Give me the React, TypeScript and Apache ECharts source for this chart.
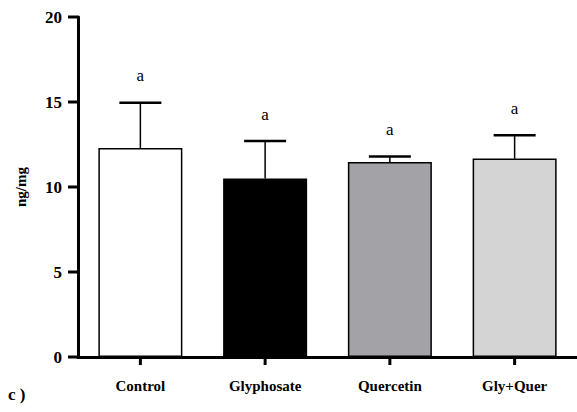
import React, { useEffect, useRef } from "react";
import * as echarts from "echarts";

const categories = ["Control", "Glyphosate", "Quercetin", "Gly+Quer"];
const means = [12.3, 10.5, 11.47, 11.67];
const errors = [2.65, 2.2, 0.33, 1.37];
const letters = ["a", "a", "a", "a"];
const colors = ["#ffffff", "#000000", "#a3a2a7", "#d4d4d4"];
const yTicks = [0, 5, 10, 15, 20];

const SERIF = "Liberation Serif";
const GRID_LEFT = 78;

export default function App() {
  const ref = useRef<HTMLDivElement>(null);
  useEffect(() => {
    document.body.style.margin = "0";
    const chart = echarts.init(ref.current!, null, { renderer: "svg" });
    chart.setOption({
      animation: false,
      backgroundColor: "#ffffff",
      grid: { left: GRID_LEFT, top: 17, width: 504, height: 340 },
      xAxis: {
        type: "category",
        data: categories,
        axisLine: { show: true, lineStyle: { color: "#000000", width: 3 } },
        axisTick: { show: false },
        axisLabel: {
          show: true,
          color: "#000000",
          fontFamily: SERIF,
          fontWeight: "bold",
          fontSize: 15,
          margin: 21,
        },
      },
      yAxis: {
        type: "value",
        min: yTicks[0],
        max: yTicks[yTicks.length - 1],
        interval: 5,
        name: "ng/mg",
        nameLocation: "middle",
        nameGap: 50,
        nameRotate: 90,
        nameTextStyle: { color: "#000000", fontFamily: SERIF, fontWeight: "bold", fontSize: 15 },
        splitLine: { show: false },
        axisLine: { show: true, lineStyle: { color: "#000000", width: 3 } },
        axisTick: { show: false },
        axisLabel: {
          color: "#000000",
          fontFamily: SERIF,
          fontWeight: "bold",
          fontSize: 17,
          margin: 16,
        },
      },
      series: [
        {
          type: "bar",
          barWidth: 84,
          data: means.map((v, i) => ({
            value: v,
            itemStyle: { color: colors[i], borderColor: "#000", borderWidth: 1.5 },
          })),
          z: 2,
        },
        {
          type: "custom",
          z: 3,
          data: means.map((v, i) => [i, v, errors[i], letters[i]]),
          renderItem: (params: any, api: any) => {
            const i = api.value(0);
            const m = api.value(1);
            const e = api.value(2);
            const base = api.coord([i, m]);
            const top = api.coord([i, m + e]);
            const label = letters[params.dataIndex];
            return {
              type: "group",
              children: [
                {
                  type: "line",
                  shape: { x1: base[0], y1: base[1], x2: top[0], y2: top[1] },
                  style: { stroke: "#000", lineWidth: 1.5 },
                },
                {
                  type: "line",
                  shape: { x1: top[0] - 21, y1: top[1], x2: top[0] + 21, y2: top[1] },
                  style: { stroke: "#000", lineWidth: 2.5 },
                },
                {
                  type: "text",
                  x: top[0],
                  y: top[1] - 27,
                  style: {
                    text: label,
                    fill: "#000",
                    fontFamily: SERIF,
                    fontSize: 17,
                    align: "center",
                    verticalAlign: "middle",
                  },
                },
              ],
            };
          },
        },
      ],
    });

    const graphics: any[] = [
      {
        type: "text",
        left: 8,
        top: 386,
        style: {
          text: "c )",
          fill: "#000",
          fontFamily: SERIF,
          fontWeight: "bold",
          fontSize: 17,
        },
      },
    ];
    try {
      yTicks.forEach((t) => {
        const p = chart.convertToPixel({ gridIndex: 0 }, [0, t]) as number[];
        graphics.push({
          type: "rect",
          z: 100,
          shape: { x: GRID_LEFT - 10, y: p[1] - 1.5, width: 10, height: 3 },
          style: { fill: "#000" },
        });
      });
      categories.forEach((_, i) => {
        const p = chart.convertToPixel({ gridIndex: 0 }, [i, 0]) as number[];
        graphics.push({
          type: "rect",
          z: 100,
          shape: { x: p[0] - 1.5, y: p[1], width: 3, height: 8 },
          style: { fill: "#000" },
        });
      });
    } catch (e) {
      // keep the base chart if pixel conversion fails
    }
    chart.setOption({ graphic: graphics });
    return () => chart.dispose();
  }, []);
  return <div ref={ref} style={{ width: 577, height: 412 }} />;
}
